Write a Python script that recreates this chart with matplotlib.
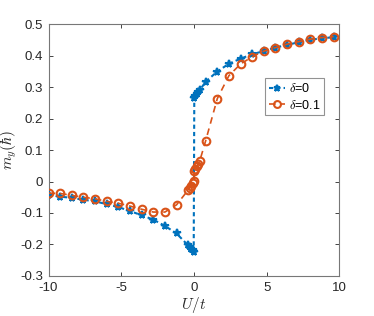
import matplotlib
matplotlib.use("Agg")
import matplotlib.pyplot as plt

# delta = 0
U0 = [-10, -9.2, -8.4, -7.6, -6.8, -6.0, -5.2, -4.4, -3.6, -2.8, -2.0, -1.2,
      -0.4, -0.3, -0.2, -0.1, -0.02,
      0.02, 0.1, 0.2, 0.3, 0.4,
      0.8, 1.6, 2.4, 3.2, 4.0, 4.8, 5.6, 6.4, 7.2, 8.0, 8.8, 9.6]
m0 = [-0.042, -0.048, -0.052, -0.058, -0.063, -0.072, -0.081, -0.094, -0.107, -0.121, -0.141, -0.165,
      -0.203, -0.208, -0.214, -0.219, -0.225,
      0.266, 0.272, 0.278, 0.284, 0.29,
      0.317, 0.349, 0.374, 0.39, 0.404, 0.414, 0.425, 0.434, 0.442, 0.45, 0.455, 0.458]

# delta = 0.1
U1 = [-10, -9.2, -8.4, -7.6, -6.8, -6.0, -5.2, -4.4, -3.6, -2.8, -2.0, -1.2,
      -0.4, -0.3, -0.2, -0.1, -0.02,
      0.02, 0.1, 0.2, 0.3, 0.4,
      0.8, 1.6, 2.4, 3.2, 4.0, 4.8, 5.6, 6.4, 7.2, 8.0, 8.8, 9.6]
m1 = [-0.037, -0.038, -0.044, -0.05, -0.055, -0.063, -0.069, -0.078, -0.088, -0.097, -0.097, -0.074,
      -0.027, -0.02, -0.013, -0.006, 0.001,
      0.033, 0.04, 0.048, 0.057, 0.066,
      0.129, 0.263, 0.336, 0.373, 0.396, 0.414, 0.425, 0.436, 0.444, 0.452, 0.457, 0.46]

labels = [r"$\delta$=0", r"$\delta$=0.1"]
xticks = [-10, -5, 0, 5, 10]
xticklabels = ['-10', '-5', '0', '5', '10']
yticks = [-0.3, -0.2, -0.1, 0, 0.1, 0.2, 0.3, 0.4, 0.5]
yticklabels = ['-0.3', '-0.2', '-0.1', '0', '0.1', '0.2', '0.3', '0.4', '0.5']

plt.rcParams['font.family'] = ['Liberation Sans', 'DejaVu Sans']
plt.rcParams['mathtext.fontset'] = 'cm'

fig = plt.figure(figsize=(3.74, 3.16), dpi=100)
ax = fig.add_axes([0.1297, 0.1266, 0.778, 0.7974])

blue = '#0072BD'
orange = '#D95319'
ax.plot(U0, m0, linestyle=(0, (2, 1.5)), color=blue, lw=1.5, marker='*',
        markersize=5.5, markeredgewidth=1.5, label=labels[0], zorder=3)
ax.plot(U1, m1, linestyle=(0, (4, 3)), color=orange, lw=1.2, marker='o',
        markersize=5.5, markerfacecolor='none', markeredgewidth=1.5,
        label=labels[1], zorder=4)

ax.set_xlim(-10, 10)
ax.set_ylim(-0.3, 0.5)
ax.set_xticks(xticks)
ax.set_yticks(yticks)
ax.set_yticklabels(yticklabels)
ax.set_xticklabels(xticklabels)
ax.tick_params(direction='in', top=True, right=True, length=3, width=0.6,
               colors='#262626', labelsize=9.5, pad=4)
for s in ax.spines.values():
    s.set_color('#777777')
    s.set_linewidth(0.8)

ax.set_xlabel(r"$U/t$", fontsize=11, color='#262626', labelpad=1)
ax.set_ylabel(r"$m_y(\hbar)$", fontsize=11, color='#262626')
ax.yaxis.set_label_coords(-0.1, 0.5)

leg = ax.legend(loc='upper left', bbox_to_anchor=(0.744, 0.785), fontsize=9,
                frameon=True, fancybox=False, edgecolor='#777777',
                handlelength=1.3, handletextpad=0.3, borderpad=0.3,
                labelspacing=0.3, borderaxespad=0, markerscale=0.9)
leg.get_frame().set_linewidth(0.8)

fig.savefig('out.png', dpi=100)
